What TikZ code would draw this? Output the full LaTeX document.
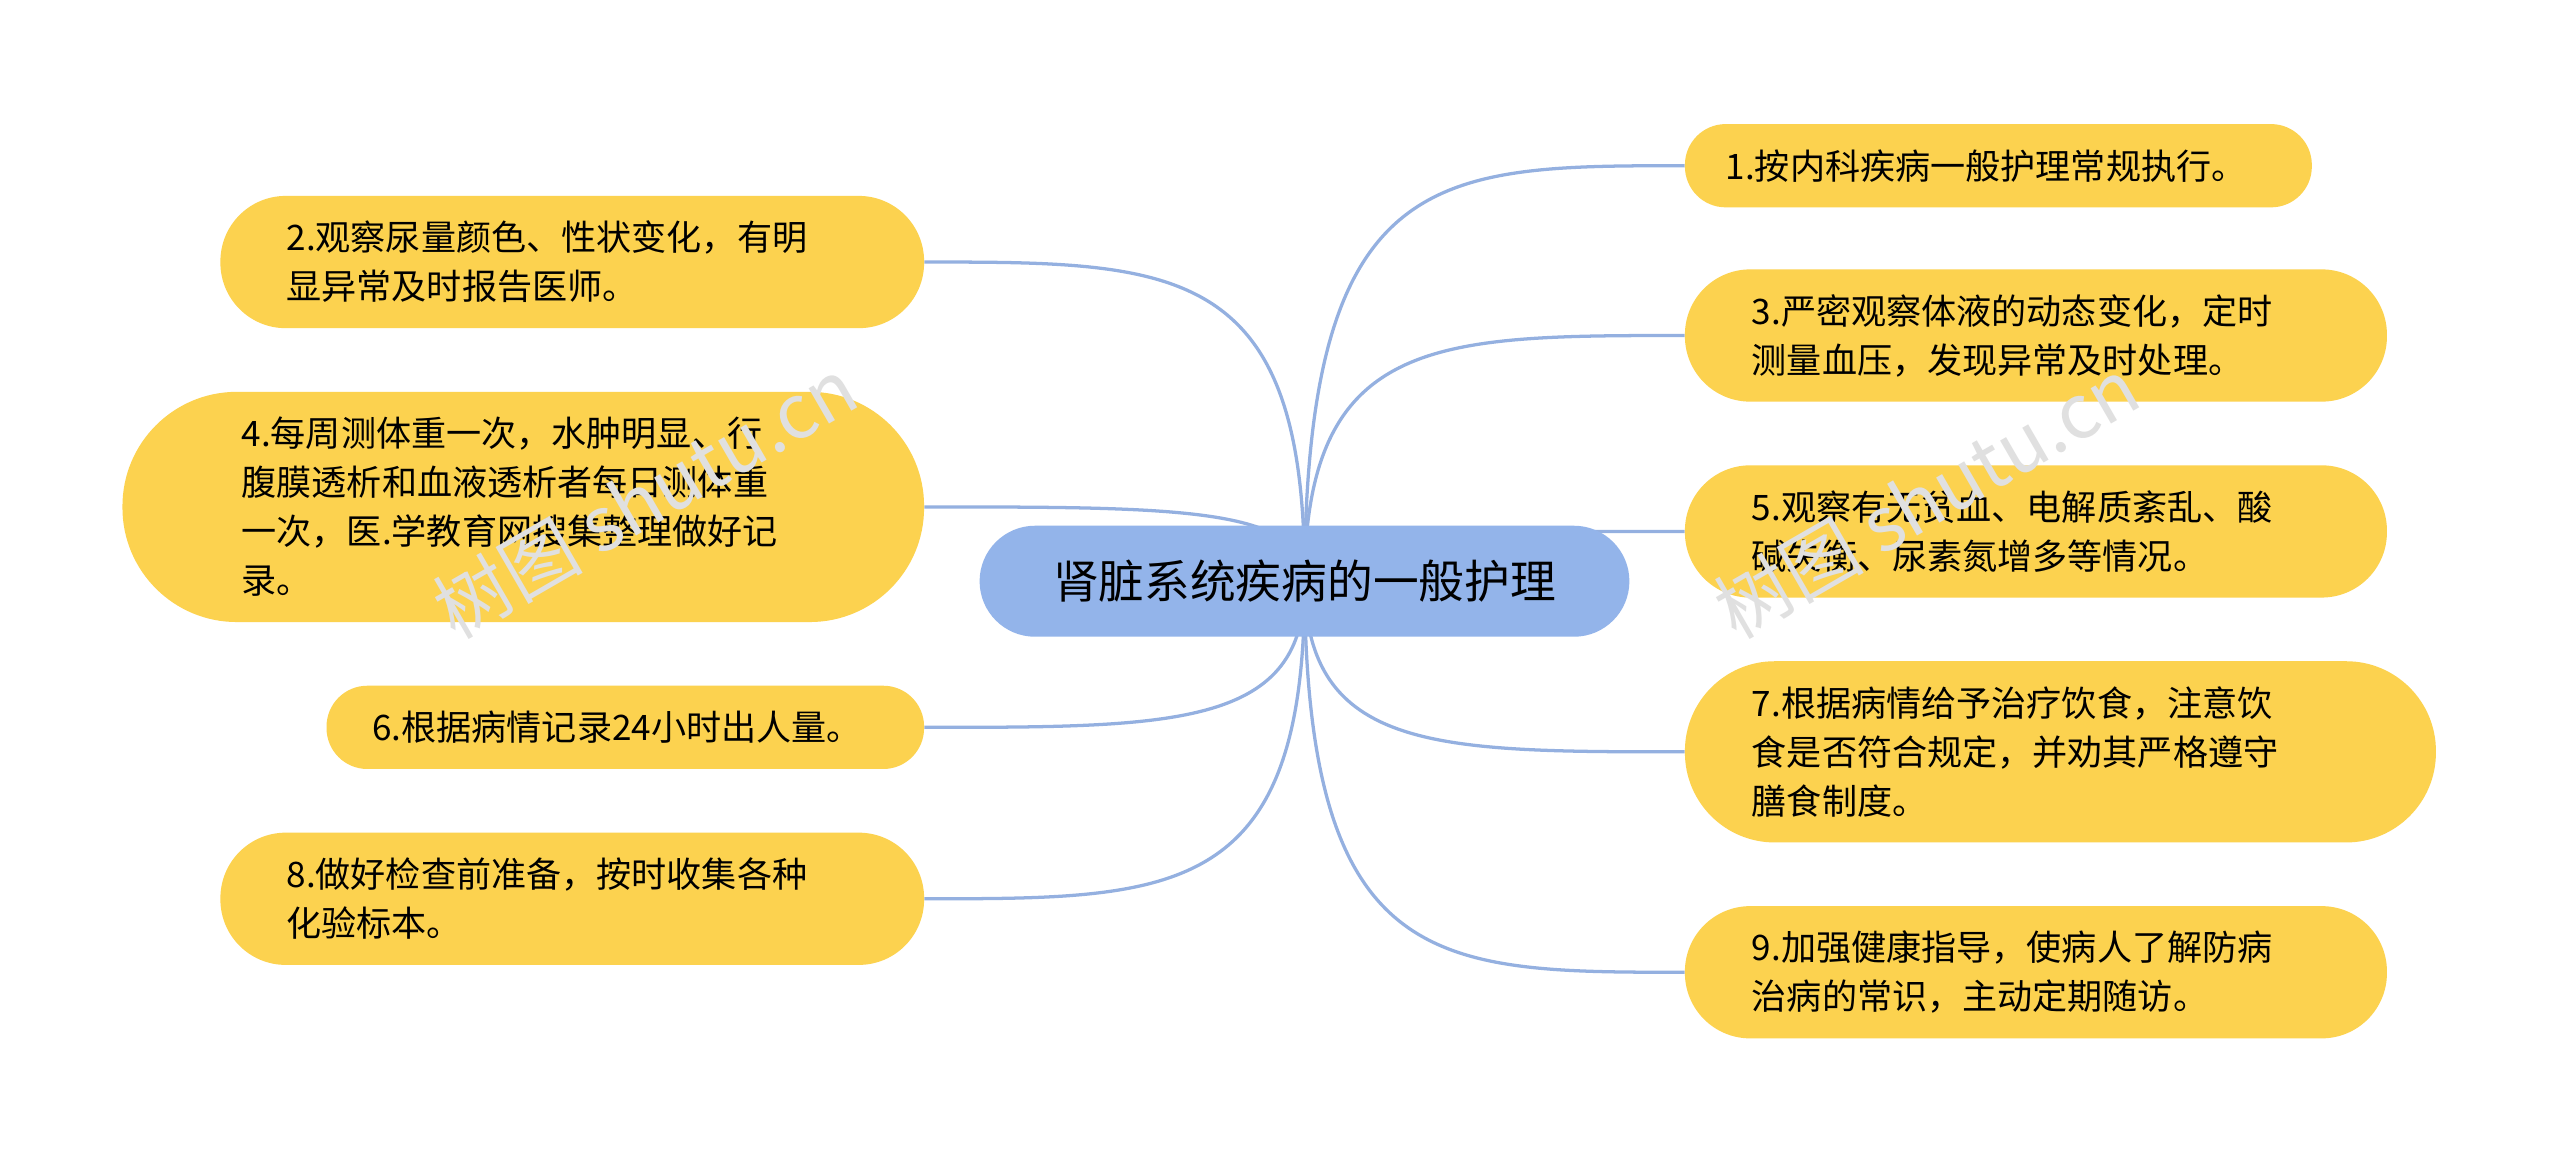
\documentclass[tikz,border=0pt]{standalone}
\usepackage{fontspec}
\setmainfont{Noto Sans CJK SC}
\usetikzlibrary{backgrounds}
\definecolor{ylw}{HTML}{FCD24F}
\definecolor{blu}{HTML}{93B4EA}
\definecolor{lnk}{HTML}{94B0E0}
\begin{document}
\begin{tikzpicture}[x=1pt,y=-1pt,
 leaf/.style={fill=ylw,inner sep=0pt,font=\fontsize{21.5}{30}\selectfont,align=left},
 link/.style={draw=lnk,line width=2pt}]
\useasboundingbox (0,0) rectangle (1568,712);
\node[fill=blu,rounded corners=34pt,minimum width=398pt,minimum height=68pt,font=\fontsize{28}{30}\selectfont] (c) at (799,356) {肾脏系统疾病的一般护理};
\newcommand\leafbox[7]{\node[leaf,rounded corners=#7pt,minimum width=#3pt,minimum height=#4pt,text width=#5pt] (#1) at #2 {#6};}
\leafbox{n1}{(1224,101.5)}{384}{51}{334}{1.按内科疾病一般护理常规执行。}{25}
\leafbox{n3}{(1247,205.5)}{430}{81}{348}{3.严密观察体液的动态变化，定时\\测量血压，发现异常及时处理。}{40}
\leafbox{n5}{(1247,325.5)}{430}{81}{348}{5.观察有无贫血、电解质紊乱、酸\\碱失衡、尿素氮增多等情况。}{40}
\leafbox{n7}{(1262,460.5)}{460}{111}{378}{7.根据病情给予治疗饮食，注意饮\\食是否符合规定，并劝其严格遵守\\膳食制度。}{55}
\leafbox{n9}{(1247,595.5)}{430}{81}{348}{9.加强健康指导，使病人了解防病\\治病的常识，主动定期随访。}{40}
\leafbox{n2}{(350.5,160.5)}{431}{81}{350}{2.观察尿量颜色、性状变化，有明\\显异常及时报告医师。}{40}
\leafbox{n4}{(320.5,310.5)}{491}{141}{345}{4.每周测体重一次，水肿明显、行\\腹膜透析和血液透析者每日测体重\\一次，医.学教育网搜集整理做好记\\录。}{70}
\leafbox{n6}{(383,445.5)}{366}{51}{310}{6.根据病情记录24小时出人量。}{25}
\leafbox{n8}{(350.5,550.5)}{431}{81}{350}{8.做好检查前准备，按时收集各种\\化验标本。}{40}
\begin{scope}[on background layer]
\fill[white] (0,0) rectangle (1568,712);
\foreach \n in {n1,n3,n5,n7,n9}{
 \draw[link] (c.center) .. controls (800,0|-\n.west) and (880,0|-\n.west) .. (\n.west);}
\foreach \n in {n2,n4,n6,n8}{
 \draw[link] (c.center) .. controls (800,0|-\n.east) and (720,0|-\n.east) .. (\n.east);}
\end{scope}
\node[rotate=30,text=black!12,font=\fontsize{46}{46}\selectfont] (w1) at (395,305) {树图 shutu.cn};
\node[rotate=30,text=black!12,font=\fontsize{46}{46}\selectfont] (w2) at (1180,305) {树图 shutu.cn};
\end{tikzpicture}
\end{document}
